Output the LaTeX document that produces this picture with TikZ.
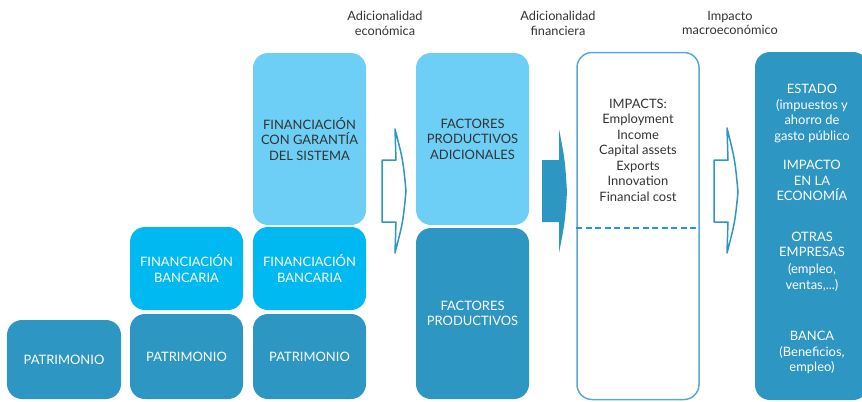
\documentclass[tikz,border=0pt]{standalone}
\usepackage{fontspec}
\setmainfont{Lato}
\usetikzlibrary{positioning}
\definecolor{darkblue}{HTML}{2E96C2}
\definecolor{lightblue}{HTML}{6DCFF6}
\definecolor{brightblue}{HTML}{00B9F0}
\definecolor{lineblue}{HTML}{5AA8D4}
\definecolor{textgray}{HTML}{333333}
\tikzset{
	box/.style={rounded corners=15bp, minimum width=113bp, inner sep=0pt, align=center, font=\fontsize{13}{15.5}\selectfont},
	darkbox/.style={box, fill=darkblue, text=white},
	bankbox/.style={box, fill=brightblue, text=white},
	lightbox/.style={box, fill=lightblue, text=textgray},
	label/.style={align=center, text=textgray, font=\fontsize{12.8}{15}\selectfont},
	whitetext/.style={align=center, text=white, font=\fontsize{13}{15.5}\selectfont},
	outarrow/.style={draw=darkblue, line width=1.5bp, line join=round}
}

\begin{document}
\begin{tikzpicture}[x=1bp, y=-1bp]
	\useasboundingbox (0,0) rectangle (862,401);
	\node [label] (ecolab) at (385,23) {Adicionalidad\\económica};
	\node [label] (finlab) at (558,23) {Adicionalidad\\financiera};
	\node [label] (maclab) at (730,23) {Impacto\\macroeconómico};
	\node [darkbox, minimum width=114bp, minimum height=79bp] (pat1) at (64,359.5) {PATRIMONIO};
	\node [darkbox, minimum height=85bp] (pat2) at (186.5,356.5) {PATRIMONIO};
	\node [darkbox, minimum height=85bp] (pat3) at (309.5,356.5) {PATRIMONIO};
	\node [bankbox, minimum height=83bp] (bank2) at (186.5,268.5) {FINANCIACIÓN\\BANCARIA};
	\node [bankbox, minimum height=83bp] (bank3) at (309.5,268.5) {FINANCIACIÓN\\BANCARIA};
	\node [lightbox, minimum height=172bp] (guar) at (309.5,139) {FINANCIACIÓN\\CON GARANTÍA\\DEL SISTEMA};
	\node [lightbox, minimum height=172bp] (addf) at (472.5,139) {FACTORES\\PRODUCTIVOS\\ADICIONALES};
	\node [darkbox, minimum height=171bp] (fact) at (472.5,313.5) {FACTORES\\PRODUCTIVOS};
	\node [box, draw=lineblue, line width=1.5bp, minimum width=122bp, minimum height=347bp] (imp) at (638,226) {};
	\node [label, font=\fontsize{13}{15.6}\selectfont] (implist) at (638,150) {IMPACTS:\\Employment\\Income\\Capital assets\\Exports\\Innovation\\Financial cost};
	\draw [darkblue, line width=1.3bp, dash pattern=on 6bp off 3.5bp] (imp.west |- 0,228) -- (imp.east |- 0,228);
	\node [box, fill=darkblue, minimum height=348bp] (estado) at (811.5,226) {};
	\node [whitetext] (state) at (812,113.5) {ESTADO\\(impuestos y\\ahorro de\\gasto público};
	\node [whitetext] (econ) at (812,180.5) {IMPACTO\\EN LA\\ECONOMÍA};
	\node [whitetext] (firms) at (812,261.5) {OTRAS\\EMPRESAS\\[1.5bp](empleo,\\ventas,...)};
	\node [whitetext] (banks) at (812,352.5) {BANCA\\(Beneficios,\\empleo)};
	\draw [outarrow] (382,160) -- (396,160) -- (395,129) .. controls (403,160) .. (406,191)
		.. controls (403,222) .. (395,253) -- (396,222) -- (382,222) -- cycle;
	\fill [darkblue] (542,160) -- (559,160) -- (559,129) .. controls (565,160) .. (567,192)
		.. controls (565,222) .. (559,253) -- (559,222) -- (542,222) -- cycle;
	\draw [outarrow] (714,160) -- (728,160) -- (727,128) .. controls (735,160) .. (738,192)
		.. controls (735,222) .. (727,253) -- (728,222) -- (714,222) -- cycle;
\end{tikzpicture}
\end{document}
